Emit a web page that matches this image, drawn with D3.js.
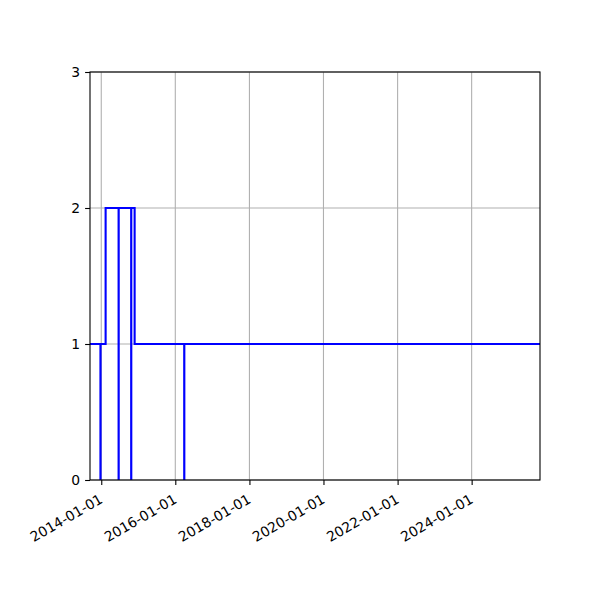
<!DOCTYPE html>
<html>
<head>
<meta charset="utf-8">
<script src="https://cdn.jsdelivr.net/npm/d3@7"></script>
<style>
  body { margin: 0; background: #fff; }
  svg text { font-family: "DejaVu Sans", sans-serif; font-size: 13.9px; fill: #000; }
</style>
</head>
<body>
<svg id="chart"></svg>
<script>
// step series: date -> value (held until next date)
const dates = ["2013-09-01", "2013-12-24", "2013-12-25", "2014-02-13", "2014-06-21", "2014-06-22",
  "2014-10-23", "2014-10-24", "2014-11-26", "2016-03-29", "2016-03-30", "2026-01-01"];
const values = [1, 0, 1, 2, 0, 2, 0, 2, 1, 0, 1, 1];
const xTickLabels = ["2014-01-01", "2016-01-01", "2018-01-01", "2020-01-01", "2022-01-01", "2024-01-01"];
const yTicks = [0, 1, 2, 3];
const xLimits = ["2013-09-12", "2025-11-05"];

const parse = d3.utcParse("%Y-%m-%d");
const data = dates.map((d, i) => ({ date: parse(d), value: values[i] }));

const width = 600, height = 600;
const margin = { top: 72, right: 60, bottom: 120, left: 90 };
const innerWidth = width - margin.left - margin.right;
const innerHeight = height - margin.top - margin.bottom;

const svg = d3.select("#chart").attr("width", width).attr("height", height);

const xScale = d3.scaleUtc()
  .domain(xLimits.map(parse))
  .range([0, innerWidth]);

const yScale = d3.scaleLinear()
  .domain([0, 3])
  .range([innerHeight, 0]);

const viewPort = svg.append("g")
  .attr("transform", `translate(${margin.left}, ${margin.top})`);

// grid
viewPort.append("g")
  .selectAll("line")
  .data(xTickLabels)
  .join("line")
    .attr("x1", d => xScale(parse(d)))
    .attr("x2", d => xScale(parse(d)))
    .attr("y1", 0)
    .attr("y2", innerHeight)
    .attr("stroke", "#b0b0b0")
    .attr("stroke-width", 1.1);

viewPort.append("g")
  .selectAll("line")
  .data(yTicks)
  .join("line")
    .attr("x1", 0)
    .attr("x2", innerWidth)
    .attr("y1", d => yScale(d))
    .attr("y2", d => yScale(d))
    .attr("stroke", "#b0b0b0")
    .attr("stroke-width", 1.1);

viewPort.append("clipPath")
  .attr("id", "clip")
  .append("rect")
    .attr("width", innerWidth)
    .attr("height", innerHeight);

const line = d3.line()
  .x(d => xScale(d.date))
  .y(d => yScale(d.value))
  .curve(d3.curveStepAfter);

viewPort.append("path")
  .datum(data)
  .attr("clip-path", "url(#clip)")
  .attr("fill", "none")
  .attr("stroke", "#0000ff")
  .attr("stroke-width", 2.1)
  .attr("d", line);

// frame
viewPort.append("rect")
  .attr("width", innerWidth)
  .attr("height", innerHeight)
  .attr("fill", "none")
  .attr("stroke", "#000")
  .attr("stroke-width", 1.1);

// x axis
const xAxis = d3.axisBottom(xScale)
  .tickValues(xTickLabels.map(parse))
  .tickFormat(d3.utcFormat("%Y-%m-%d"))
  .tickSize(4.9)
  .tickSizeOuter(0);

const xAxisG = viewPort.append("g")
  .attr("transform", `translate(0, ${innerHeight})`)
  .call(xAxis);
xAxisG.select(".domain").remove();
xAxisG.selectAll("line").attr("stroke", "#000").attr("stroke-width", 1.1);
xAxisG.selectAll("text")
  .attr("font-size", null)
  .attr("font-family", null)
  .attr("y", 0).attr("dy", 0)
  .attr("text-anchor", "end")
  .attr("transform", "translate(2, 22) rotate(-30)");

// y axis
const yAxis = d3.axisLeft(yScale)
  .tickValues(yTicks)
  .tickFormat(d3.format("d"))
  .tickSize(4.9)
  .tickSizeOuter(0);

const yAxisG = viewPort.append("g").call(yAxis);
yAxisG.select(".domain").remove();
yAxisG.selectAll("line").attr("stroke", "#000").attr("stroke-width", 1.1);
yAxisG.selectAll("text")
  .attr("font-size", null)
  .attr("font-family", null)
  .attr("x", -9.8)
  .attr("dy", "0.35em");
</script>
</body>
</html>
